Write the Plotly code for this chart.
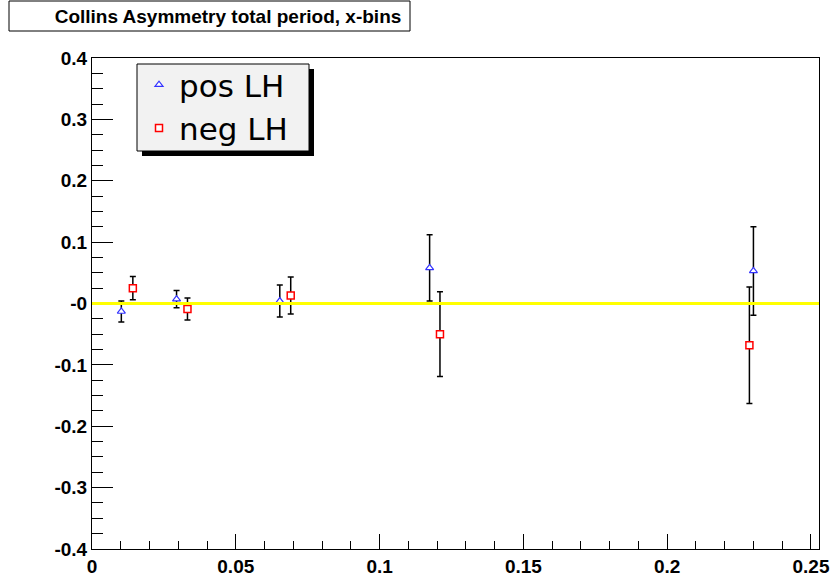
import plotly.graph_objs as go

# Collins asymmetry, x-bins
pos_x = [0.0102, 0.0294, 0.0653, 0.1174, 0.2300]
pos_y = [-0.013, 0.007, 0.004, 0.058, 0.053]
pos_err = [0.017, 0.014, 0.026, 0.054, 0.072]

neg_x = [0.0142, 0.0332, 0.0691, 0.1210, 0.2286]
neg_y = [0.025, -0.009, 0.013, -0.050, -0.068]
neg_err = [0.019, 0.018, 0.030, 0.069, 0.095]

x_ticks = [0, 0.05, 0.1, 0.15, 0.2, 0.25]
x_labels = ["0", "0.05", "0.1", "0.15", "0.2", "0.25"]
y_ticks = [-0.4, -0.3, -0.2, -0.1, 0, 0.1, 0.2, 0.3, 0.4]
y_labels = ["-0.4", "-0.3", "-0.2", "-0.1", "-0", "0.1", "0.2", "0.3", "0.4"]

W, H = 830, 583
L, R, T, B = 92, 819, 58, 549  # plot frame in pixels


def px(x):
    return (x - L) / (R - L)


def py(y):
    return (B - y) / (B - T)


fig = go.Figure()

fig.add_trace(go.Scatter(
    x=pos_x, y=pos_y, mode='markers', name='pos LH',
    error_y=dict(type='data', array=pos_err, color='black', thickness=1.5, width=3),
    marker=dict(symbol='triangle-up', size=7, color='white',
                line=dict(color='#3333ff', width=1.2)),
))

fig.add_trace(go.Scatter(
    x=neg_x, y=neg_y, mode='markers', name='neg LH',
    error_y=dict(type='data', array=neg_err, color='black', thickness=1.5, width=3),
    marker=dict(symbol='square', size=7, color='white',
                line=dict(color='#ff0000', width=1.5)),
))

shapes = [
    # zero line
    dict(type='line', xref='paper', yref='y', x0=0, x1=1, y0=0, y1=0,
         line=dict(color='#ffff00', width=3), layer='above'),
    # title box
    dict(type='rect', xref='paper', yref='paper',
         x0=px(9), x1=px(410), y0=py(31), y1=py(1),
         line=dict(color='black', width=1), fillcolor='white'),
    # legend shadow + box
    dict(type='rect', xref='paper', yref='paper',
         x0=px(142), x1=px(314), y0=py(156), y1=py(69),
         line=dict(width=0), fillcolor='black', layer='above'),
    dict(type='rect', xref='paper', yref='paper',
         x0=px(137), x1=px(309), y0=py(151), y1=py(64),
         line=dict(color='black', width=1), fillcolor='#f2f2f2', layer='above'),
]

tick_font = dict(size=19, family='Liberation Sans', color='black', weight='bold')

fig.update_layout(
    width=W, height=H,
    margin=dict(l=L, r=W - R, t=T, b=H - B, autoexpand=False),
    paper_bgcolor='white', plot_bgcolor='white',
    font=dict(family='Liberation Sans', color='black'),
    title=dict(text='Collins Asymmetry total period, x-bins',
               xref='container', yref='container', x=228 / W, y=1 - 16 / H,
               xanchor='center', yanchor='middle',
               font=dict(size=19, family='Liberation Sans', color='black', weight='bold')),
    showlegend=True,
    legend=dict(x=px(139), y=py(58), xanchor='left', yanchor='top',
                bgcolor='rgba(0,0,0,0)', borderwidth=0,
                font=dict(size=31, family='DejaVu Sans', color='black'),
                tracegroupgap=0),
    shapes=shapes,
    xaxis=dict(range=[0, 0.2528], tickvals=x_ticks, ticktext=x_labels,
               ticks='inside', ticklen=15, tickcolor='black', tickwidth=1,
               minor=dict(dtick=0.01, ticks='inside', ticklen=8, tickcolor='black'),
               showline=True, linecolor='black', linewidth=1, mirror=True,
               showgrid=False, zeroline=False, automargin=False,
               tickfont=tick_font),
    yaxis=dict(range=[-0.4, 0.4], tickvals=y_ticks, ticktext=y_labels,
               ticks='inside', ticklen=21, tickcolor='black', tickwidth=1,
               minor=dict(dtick=0.025, ticks='inside', ticklen=11, tickcolor='black'),
               showline=True, linecolor='black', linewidth=1, mirror=True,
               showgrid=False, zeroline=False, automargin=False,
               tickfont=tick_font),
)

# page body has a default 8px margin; remove it so the figure sits at the origin
fig.write_html("out.html", config={'displayModeBar': False},
               post_script="document.body.style.margin='0';")
